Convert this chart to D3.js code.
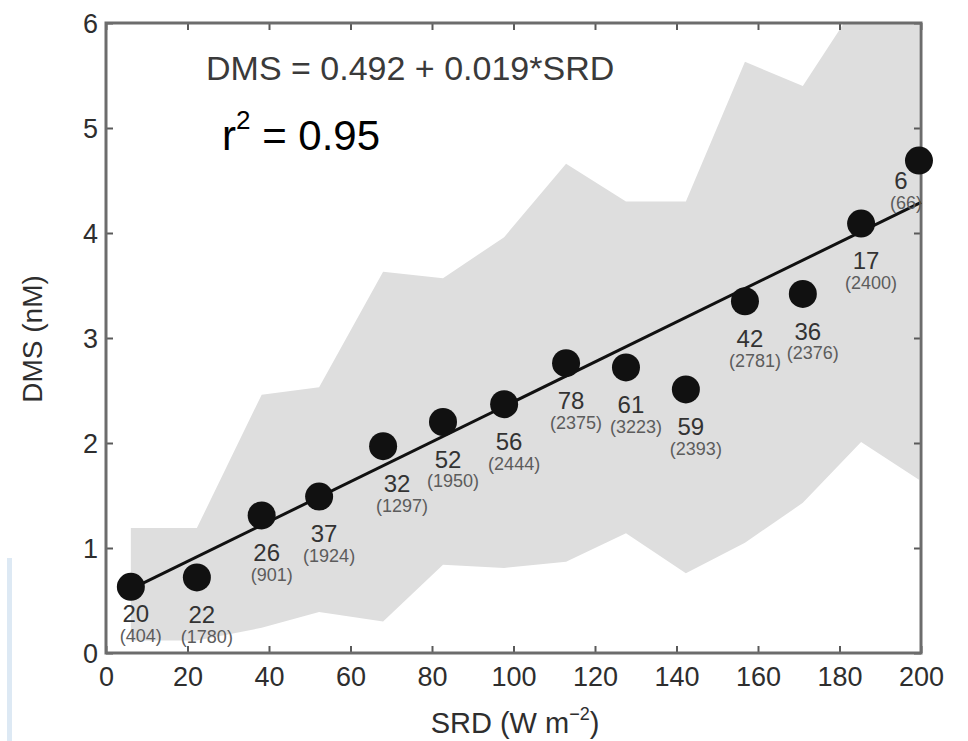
<!DOCTYPE html>
<html>
<head>
<meta charset="utf-8">
<script src="https://cdn.jsdelivr.net/npm/d3@7"></script>
<style>
  html, body { margin: 0; padding: 0; background: #ffffff; }
  svg { display: block; font-family: "Liberation Sans", Arial, Helvetica, sans-serif; }
</style>
</head>
<body>
<svg id="chart" width="968" height="741"></svg>
<script>
// Binned mean DMS concentration against surface radiation dose (SRD)
const srd = [6.1, 22.3, 38.2, 52.3, 68.0, 82.7, 97.7, 112.9, 127.6, 142.3, 156.8, 171.0, 185.3, 199.5];
const dms = [0.63, 0.72, 1.31, 1.49, 1.97, 2.20, 2.37, 2.76, 2.72, 2.51, 3.35, 3.42, 4.09, 4.69];

// number of bins / number of samples behind each mean
const binCounts = ["20", "22", "26", "37", "32", "52", "56", "78", "61", "59", "42", "36", "17", "6"];
const sampleCounts = ["404", "1780", "901", "1924", "1297", "1950", "2444", "2375", "3223", "2393", "2781", "2376", "2400", "66"];

// spread of DMS within each SRD bin (upper and lower envelope)
const dmsUpper = [1.19, 1.19, 2.46, 2.53, 3.63, 3.57, 3.96, 4.66, 4.30, 4.30, 5.63, 5.40, 6.25, 6.50];
const dmsLower = [0.12, 0.12, 0.24, 0.39, 0.30, 0.84, 0.81, 0.87, 1.14, 0.76, 1.05, 1.43, 2.01, 1.65];

// least-squares fit
const fitIntercept = 0.492;
const fitSlope = 0.019;

const xTicks = [0, 20, 40, 60, 80, 100, 120, 140, 160, 180, 200];
const yTicks = [0, 1, 2, 3, 4, 5, 6];

// small per-label nudges (px) so count labels clear the axes and the fit line
const labelNudge = [[0, -10], [0, 0], [0, 0], [0, 0], [9, 0], [0, 0], [0, 0],
                    [0, 0], [0, 0], [0, 0], [0, 0], [0, 0], [0, 0], [-23, -17]];

const svg = d3.select("#chart");
const plot = { left: 106, top: 23, right: 921, bottom: 653 };

const x = d3.scaleLinear().domain([0, 200]).range([plot.left, plot.right]);
const y = d3.scaleLinear().domain([0, 6]).range([plot.bottom, plot.top]);

svg.append("defs").append("clipPath").attr("id", "plot-clip")
  .append("rect")
  .attr("x", plot.left).attr("y", plot.top)
  .attr("width", plot.right - plot.left).attr("height", plot.bottom - plot.top);

// thin light-blue strip at the lower left edge
svg.append("rect")
  .attr("x", 7).attr("y", 558).attr("width", 5).attr("height", 183)
  .attr("fill", "#dde9f4");

const bins = srd.map((s, i) => ({ s, v: dms[i], hi: dmsUpper[i], lo: dmsLower[i],
  n: binCounts[i], m: sampleCounts[i], nudge: labelNudge[i] }));

// shaded range band
const band = d3.area()
  .x(d => x(d.s))
  .y0(d => y(d.lo))
  .y1(d => y(d.hi));

svg.append("path")
  .datum(bins)
  .attr("clip-path", "url(#plot-clip)")
  .attr("d", band)
  .attr("fill", "#dedede");

// axes: ticks point inward on all four sides
const tickColor = "#5a5a5a";
const labelColor = "#2e2e2e";
const intFormat = d3.format("d");

const xAxis = svg.append("g")
  .attr("transform", `translate(0,${plot.bottom})`)
  .call(d3.axisBottom(x).tickValues(xTicks).tickFormat(intFormat)
    .tickSizeInner(-7).tickSizeOuter(0).tickPadding(14));
const xTop = svg.append("g")
  .attr("transform", `translate(0,${plot.top})`)
  .call(d3.axisTop(x).tickValues(xTicks).tickSizeInner(-7).tickSizeOuter(0).tickFormat(""));
const yAxis = svg.append("g")
  .attr("transform", `translate(${plot.left},0)`)
  .call(d3.axisLeft(y).tickValues(yTicks).tickFormat(intFormat)
    .tickSizeInner(-7).tickSizeOuter(0).tickPadding(8));
const yRight = svg.append("g")
  .attr("transform", `translate(${plot.right},0)`)
  .call(d3.axisRight(y).tickValues(yTicks).tickSizeInner(-7).tickSizeOuter(0).tickFormat(""));

[xAxis, xTop, yAxis, yRight].forEach(g => {
  g.select(".domain").remove();
  g.selectAll(".tick line").attr("stroke", tickColor).attr("stroke-width", 2);
  g.selectAll(".tick text")
    .attr("fill", labelColor)
    .attr("font-size", 27)
    .attr("font-family", null);
});
xAxis.selectAll(".tick text").attr("dy", "0.72em");
yAxis.selectAll(".tick text").attr("dy", "0.36em");

// frame
svg.append("rect")
  .attr("x", plot.left).attr("y", plot.top)
  .attr("width", plot.right - plot.left).attr("height", plot.bottom - plot.top)
  .attr("fill", "none")
  .attr("stroke", "#6c6c6c")
  .attr("stroke-width", 3);

// regression line
const fitLine = d3.line().x(d => x(d)).y(d => y(fitIntercept + fitSlope * d));
svg.append("path")
  .datum([srd[0], 200])
  .attr("d", fitLine)
  .attr("fill", "none")
  .attr("stroke", "#111111")
  .attr("stroke-width", 3);

// bin means
svg.append("g")
  .selectAll("circle")
  .data(bins)
  .join("circle")
  .attr("cx", d => x(d.s))
  .attr("cy", d => y(d.v))
  .attr("r", 14)
  .attr("fill", "#111111");

// count labels under each mean
const labels = svg.append("g").attr("text-anchor", "middle");
labels.selectAll("text.count")
  .data(bins)
  .join("text")
  .attr("class", "count")
  .attr("x", d => x(d.s) + 5 + d.nudge[0])
  .attr("y", d => y(d.v) + 37 + d.nudge[1])
  .attr("dy", "0.36em")
  .attr("font-size", 24)
  .attr("fill", "#333333")
  .text(d => d.n);
labels.selectAll("text.samples")
  .data(bins)
  .join("text")
  .attr("class", "samples")
  .attr("x", d => x(d.s) + 10 + d.nudge[0])
  .attr("y", d => y(d.v) + 59 + d.nudge[1])
  .attr("dy", "0.36em")
  .attr("font-size", 18)
  .attr("fill", "#5c5c5c")
  .text(d => `(${d.m})`);

// fit equation and coefficient of determination
svg.append("text")
  .attr("x", 206).attr("y", 80)
  .attr("font-size", 34)
  .attr("fill", "#3a3a3a")
  .text(`DMS = ${fitIntercept} + ${fitSlope}*SRD`);

const r2 = svg.append("text")
  .attr("x", 222).attr("y", 150)
  .attr("font-size", 42)
  .attr("fill", "#000000");
r2.append("tspan").text("r");
r2.append("tspan").attr("font-size", 26).attr("dy", -21).text("2");
r2.append("tspan").attr("dy", 21).text(" = 0.95");

// axis titles
const xTitle = svg.append("text")
  .attr("x", 515).attr("y", 733)
  .attr("text-anchor", "middle")
  .attr("font-size", 29)
  .attr("fill", labelColor);
xTitle.append("tspan").text("SRD (W m");
xTitle.append("tspan").attr("font-size", 18).attr("dy", -13).text("\u22122");
xTitle.append("tspan").attr("dy", 13).text(")");

svg.append("text")
  .attr("transform", "translate(42,339) rotate(-90)")
  .attr("text-anchor", "middle")
  .attr("font-size", 28)
  .attr("fill", labelColor)
  .text("DMS (nM)");
</script>
</body>
</html>
